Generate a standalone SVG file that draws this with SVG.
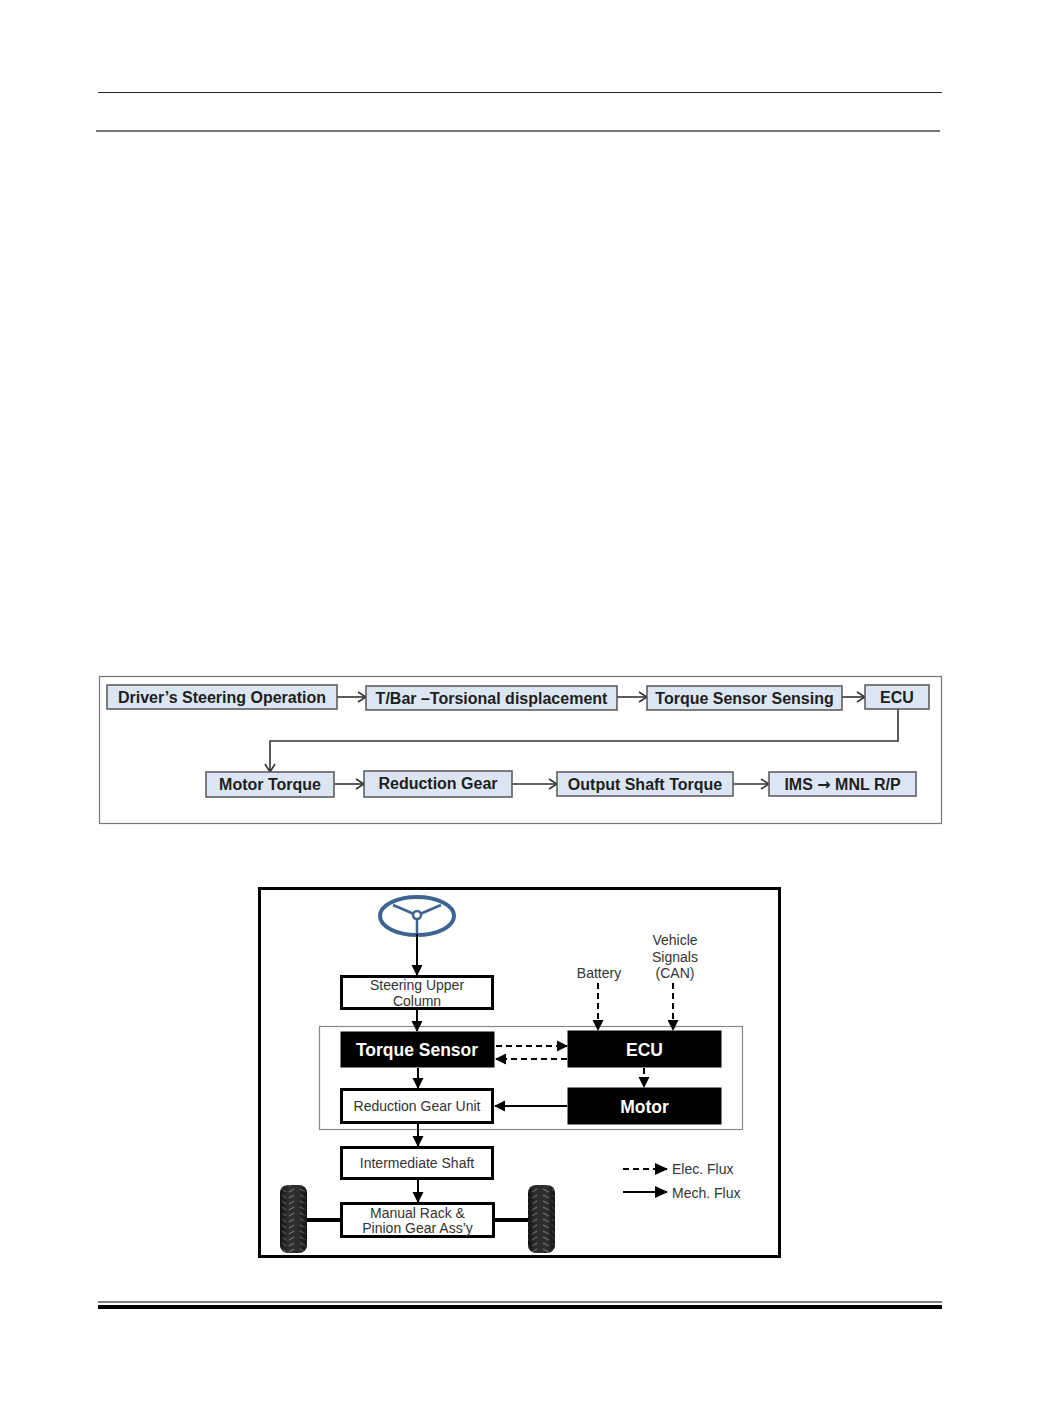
<svg xmlns="http://www.w3.org/2000/svg" width="1041" height="1420" viewBox="0 0 1041 1420">
<style>
.fb{fill:#dce6f2;stroke:#555;stroke-width:1.5}
.ft{font-family:"Liberation Sans",Arial,sans-serif;font-weight:bold;font-size:16px;fill:#1e1e1e;text-anchor:middle}
.fc{fill:none;stroke:#333;stroke-width:1.6}
.wb{fill:#fff;stroke:#000;stroke-width:3}
.bb{fill:#000;stroke:#000;stroke-width:1}
.lt{font-family:"Liberation Sans",Arial,sans-serif;font-size:14px;fill:#333;text-anchor:middle}
.ls{font-family:"Liberation Sans",Arial,sans-serif;font-size:14px;fill:#333;text-anchor:start}
.bt{font-family:"Liberation Sans",Arial,sans-serif;font-weight:bold;font-size:17.5px;fill:#fff;text-anchor:middle}
.sl{fill:none;stroke:#000;stroke-width:2}
.dl{fill:none;stroke:#000;stroke-width:2;stroke-dasharray:6,4}
</style>
<defs>
<marker id="oa" markerWidth="10" markerHeight="12" refX="9" refY="6" orient="auto" markerUnits="userSpaceOnUse">
<path d="M1,1 L9,6 L1,11" fill="none" stroke="#333" stroke-width="1.6"/>
</marker>
<marker id="fa" markerWidth="12" markerHeight="12" refX="10" refY="6" orient="auto" markerUnits="userSpaceOnUse">
<path d="M0,0.5 L11,6 L0,11.5 Z" fill="#000"/>
</marker>
<marker id="la" markerWidth="14" markerHeight="12" refX="12" refY="6" orient="auto" markerUnits="userSpaceOnUse">
<path d="M0,0 L13,6 L0,12 Z" fill="#000"/>
</marker>
<pattern id="tread" width="27" height="6" patternUnits="userSpaceOnUse">
<rect width="27" height="6" fill="#2e2e2e"/>
<path d="M3,1 L9,4 M12,1 L16,4 M19,4 L24,1" stroke="#707070" stroke-width="1.2"/>
</pattern>
<linearGradient id="tg" x1="0" x2="1" y1="0" y2="0">
<stop offset="0" stop-color="#000" stop-opacity="0.6"/>
<stop offset="0.3" stop-color="#000" stop-opacity="0"/>
<stop offset="0.7" stop-color="#000" stop-opacity="0"/>
<stop offset="1" stop-color="#000" stop-opacity="0.6"/>
</linearGradient>
</defs>

<g id="page-lines">
<line x1="98" y1="92.5" x2="942" y2="92.5" stroke="#222" stroke-width="1"/>
<line x1="96" y1="131" x2="940" y2="131" stroke="#777" stroke-width="2"/>
<line x1="98" y1="1302" x2="942" y2="1302" stroke="#000" stroke-width="1.2"/>
<line x1="98" y1="1307" x2="942" y2="1307" stroke="#000" stroke-width="4"/>
</g>

<g id="flow-frame">
<rect x="99.5" y="676.5" width="842" height="147" fill="#fff" stroke="#777" stroke-width="1.2"/>
</g>

<g id="flow-connectors">
<line class="fc" x1="337" y1="697" x2="366" y2="697" marker-end="url(#oa)"/>
<line class="fc" x1="617" y1="697" x2="647" y2="697" marker-end="url(#oa)"/>
<line class="fc" x1="842" y1="697" x2="865" y2="697" marker-end="url(#oa)"/>
<polyline class="fc" points="898,709 898,741 270,741 270,772" marker-end="url(#oa)"/>
<line class="fc" x1="334" y1="784" x2="364" y2="784" marker-end="url(#oa)"/>
<line class="fc" x1="512" y1="784" x2="557" y2="784" marker-end="url(#oa)"/>
<line class="fc" x1="733" y1="784" x2="769" y2="784" marker-end="url(#oa)"/>
</g>

<g id="f-driver"><rect class="fb" x="107" y="685" width="230" height="24"/><text class="ft" x="222" y="703">Driver’s Steering Operation</text></g>
<g id="f-tbar"><rect class="fb" x="366" y="686" width="251" height="24"/><text class="ft" x="491.5" y="704">T/Bar –Torsional displacement</text></g>
<g id="f-tss"><rect class="fb" x="647" y="686" width="195" height="24"/><text class="ft" x="744.5" y="704">Torque Sensor Sensing</text></g>
<g id="f-ecu"><rect class="fb" x="865" y="685" width="64" height="24"/><text class="ft" x="897" y="703">ECU</text></g>
<g id="f-motor"><rect class="fb" x="206" y="772" width="128" height="25"/><text class="ft" x="270" y="790">Motor Torque</text></g>
<g id="f-rg"><rect class="fb" x="364" y="771" width="148" height="26"/><text class="ft" x="438" y="789">Reduction Gear</text></g>
<g id="f-ost"><rect class="fb" x="557" y="772" width="176" height="24"/><text class="ft" x="645" y="790">Output Shaft Torque</text></g>
<g id="f-ims"><rect class="fb" x="769" y="772" width="147" height="24"/><text class="ft" x="842.5" y="790">IMS <tspan style="font-family:'DejaVu Sans',sans-serif">→</tspan> MNL R/P</text></g>

<g id="sys-frame">
<rect x="259.5" y="888.5" width="520" height="368" fill="#fff" stroke="#000" stroke-width="3"/>
<rect x="319.5" y="1026.5" width="423" height="103" fill="none" stroke="#888" stroke-width="1.2"/>
</g>

<g id="wheel">
<ellipse cx="417" cy="916" rx="37" ry="19" fill="none" stroke="#3d6391" stroke-width="4"/>
<path d="M393,905 L414,914 M441,905 L420,914 M417,919 L417,933" stroke="#3d6391" stroke-width="2.5" fill="none"/>
<circle cx="417" cy="915" r="4" fill="#fff" stroke="#3d6391" stroke-width="2.5"/>
</g>

<g id="tires">
<rect x="280" y="1185" width="27" height="68" rx="8" fill="url(#tread)"/>
<rect x="280" y="1185" width="27" height="68" rx="8" fill="url(#tg)"/>
<rect x="528" y="1185" width="27" height="68" rx="8" fill="url(#tread)"/>
<rect x="528" y="1185" width="27" height="68" rx="8" fill="url(#tg)"/>
</g>

<g id="sys-connectors">
<line class="sl" x1="417" y1="934" x2="417" y2="975" marker-end="url(#fa)"/>
<line class="sl" x1="417" y1="1010" x2="417" y2="1031" marker-end="url(#fa)"/>
<line class="sl" x1="418" y1="1068" x2="418" y2="1088" marker-end="url(#fa)"/>
<line class="sl" x1="418" y1="1124" x2="418" y2="1146" marker-end="url(#fa)"/>
<line class="sl" x1="418" y1="1180" x2="418" y2="1202" marker-end="url(#fa)"/>
<line class="sl" x1="567" y1="1106" x2="495" y2="1106" marker-end="url(#fa)"/>
<line class="dl" x1="496" y1="1046" x2="567" y2="1046" marker-end="url(#fa)"/>
<line class="dl" x1="567" y1="1059" x2="496" y2="1059" marker-end="url(#fa)"/>
<line class="dl" x1="598" y1="983" x2="598" y2="1030" marker-end="url(#fa)"/>
<line class="dl" x1="673" y1="983" x2="673" y2="1030" marker-end="url(#fa)"/>
<line class="dl" x1="644" y1="1068" x2="644" y2="1087" stroke-dasharray="4,3" marker-end="url(#fa)"/>
<line x1="307" y1="1220" x2="341" y2="1220" stroke="#000" stroke-width="4"/>
<line x1="494" y1="1220" x2="528" y2="1220" stroke="#000" stroke-width="4"/>
</g>

<g id="n-suc"><rect class="wb" x="341.5" y="976.5" width="151" height="32"/><text class="lt" x="417" y="990">Steering Upper</text><text class="lt" x="417" y="1006">Column</text></g>
<g id="n-ts"><rect class="bb" x="341" y="1032" width="153" height="35"/><text class="bt" x="417" y="1056">Torque Sensor</text></g>
<g id="n-ecu"><rect class="bb" x="568" y="1031" width="153" height="36"/><text class="bt" x="644.5" y="1056">ECU</text></g>
<g id="n-motor"><rect class="bb" x="568" y="1088" width="153" height="36"/><text class="bt" x="644.5" y="1113">Motor</text></g>
<g id="n-rgu"><rect class="wb" x="341.5" y="1089.5" width="151" height="33"/><text class="lt" x="417" y="1111">Reduction Gear Unit</text></g>
<g id="n-is"><rect class="wb" x="341.5" y="1147.5" width="151" height="31"/><text class="lt" x="417" y="1168">Intermediate Shaft</text></g>
<g id="n-mr"><rect class="wb" x="341.5" y="1203.5" width="152" height="33"/><text class="lt" x="417.5" y="1218">Manual Rack &amp;</text><text class="lt" x="417.5" y="1233">Pinion Gear Ass’y</text></g>
<g id="n-battery"><text class="lt" x="599" y="978">Battery</text></g>
<g id="n-can"><text class="lt" x="675" y="945">Vehicle</text><text class="lt" x="675" y="962">Signals</text><text class="lt" x="675" y="978">(CAN)</text></g>

<g id="legend">
<line class="dl" x1="623" y1="1169" x2="667" y2="1169" marker-end="url(#la)"/>
<line class="sl" x1="623" y1="1192" x2="667" y2="1192" marker-end="url(#la)"/>
<text class="ls" x="672" y="1174">Elec. Flux</text>
<text class="ls" x="672" y="1198">Mech. Flux</text>
</g>
</svg>
